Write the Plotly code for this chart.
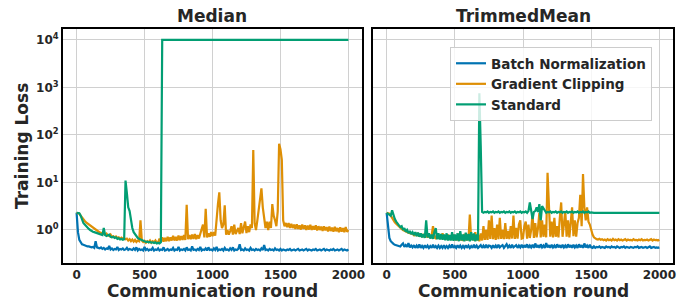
import plotly.graph_objects as go

# ---------------- data (every 10 rounds) ----------------
rounds = list(range(0, 2001, 10))  # 201 points

median_bn = [
    2.3, 0.9, 0.62, 0.55, 0.5, 0.49, 0.47, 0.46, 0.45, 0.45, 0.44, 0.43, 0.44, 0.42, 0.58, 0.43, 0.42, 0.41, 0.43, 0.40,
    0.42, 0.39, 0.41, 0.40, 0.46, 0.39, 0.41, 0.38, 0.40, 0.39, 0.44, 0.38, 0.40, 0.39, 0.41, 0.38, 0.39, 0.42, 0.38, 0.40,
    0.39, 0.38, 0.41, 0.38, 0.43, 0.37, 0.40, 0.38, 0.39, 0.37, 0.44, 0.38, 0.40, 0.37, 0.39, 0.38, 0.42, 0.37, 0.39, 0.38,
    0.41, 0.37, 0.39, 0.38, 0.43, 0.37, 0.38, 0.40, 0.37, 0.39, 0.38, 0.42, 0.37, 0.39, 0.38, 0.44, 0.37, 0.39, 0.38, 0.40,
    0.37, 0.43, 0.38, 0.39, 0.37, 0.45, 0.38, 0.39, 0.37, 0.40, 0.38, 0.44, 0.37, 0.39, 0.38, 0.41, 0.37, 0.43, 0.38, 0.39,
    0.37, 0.41, 0.38, 0.44, 0.37, 0.39, 0.38, 0.40, 0.37, 0.42, 0.38, 0.39, 0.37, 0.41, 0.38, 0.43, 0.37, 0.39, 0.38, 0.40,
    0.50, 0.38, 0.39, 0.37, 0.41, 0.38, 0.39, 0.37, 0.42, 0.38, 0.39, 0.37, 0.40, 0.38, 0.39, 0.37, 0.41, 0.38, 0.48, 0.38,
    0.39, 0.37, 0.40, 0.38, 0.39, 0.37, 0.41, 0.38, 0.39, 0.37, 0.40, 0.37, 0.39, 0.38, 0.37, 0.39, 0.38, 0.40, 0.37, 0.38,
    0.39, 0.37, 0.38, 0.40, 0.37, 0.38, 0.39, 0.37, 0.38, 0.40, 0.37, 0.39, 0.38, 0.37, 0.39, 0.38, 0.40, 0.37, 0.38, 0.39,
    0.37, 0.38, 0.40, 0.37, 0.39, 0.38, 0.37, 0.39, 0.38, 0.40, 0.37, 0.38, 0.39, 0.37, 0.38, 0.40, 0.37, 0.39, 0.38, 0.37,
    0.39,
]
median_gc = [
    2.3, 2.25, 2.2, 2.0, 1.8, 1.7, 1.55, 1.45, 1.38, 1.3, 1.22, 1.15, 1.1, 1.05, 1.0, 0.97, 0.93, 0.9, 0.88, 0.85,
    0.82, 0.8, 0.84, 0.77, 0.75, 0.8, 0.72, 0.74, 0.7, 0.73, 0.68, 0.7, 0.66, 0.69, 0.65, 0.67, 0.64, 0.66, 0.6, 0.64,
    0.58, 0.63, 0.57, 0.62, 0.56, 0.6, 0.58, 1.6, 0.6, 0.56, 0.59, 0.54, 0.58, 0.55, 0.6, 0.54, 0.58, 0.55, 0.6, 0.54,
    0.55, 0.66, 0.56, 0.7, 0.57, 0.68, 0.58, 0.72, 0.58, 0.7, 0.6, 0.75, 0.6, 0.72, 0.6, 0.76, 0.61, 0.74, 0.62, 0.78,
    0.62, 3.4, 0.64, 0.78, 0.64, 0.8, 0.65, 0.82, 0.64, 0.78, 0.66, 0.85, 0.95, 1.3, 0.7, 2.8, 0.7, 0.85, 0.72, 0.9,
    0.74, 0.9, 0.76, 2.0, 3.5, 6.2, 1.6, 1.1, 1.3, 3.3, 0.8, 1.0, 0.8, 0.95, 1.2, 0.8, 1.3, 0.82, 1.0, 1.1,
    0.82, 1.4, 0.85, 1.1, 1.5, 0.86, 1.2, 0.9, 1.3, 1.1, 48.0, 1.4, 1.0, 1.6, 2.5, 5.0, 7.5, 3.0, 2.0, 1.1,
    1.5, 1.0, 1.5, 1.1, 3.5, 2.0, 1.6, 1.2, 2.5, 65.0, 50.0, 30.0, 1.6, 1.2, 1.4, 1.15, 1.4, 1.1, 1.35, 1.1,
    1.3, 1.05, 1.32, 1.05, 1.25, 1.02, 1.3, 1.05, 1.25, 1.0, 1.24, 1.02, 1.28, 1.0, 1.2, 1.02, 1.25, 0.98, 1.2, 1.0,
    1.18, 0.95, 1.2, 0.98, 1.15, 0.93, 1.18, 0.95, 1.12, 0.92, 1.16, 0.94, 1.1, 0.9, 1.14, 0.92, 1.1, 0.9, 1.15, 0.92,
    1.0,
]
median_std = [
    2.3, 2.3, 2.25, 2.0, 1.6, 1.4, 1.3, 1.2, 1.1, 1.05, 1.0, 0.95, 0.92, 0.9, 0.88, 0.86, 0.85, 0.82, 0.8, 0.78,
    1.1, 0.78, 0.75, 0.78, 0.8, 0.72, 0.7, 0.72, 0.68, 0.7, 0.65, 0.67, 0.63, 0.65, 0.62, 0.64, 11.0, 6.0, 3.0, 2.5,
    1.5, 1.1, 0.9, 0.8, 0.72, 0.68, 0.65, 0.63, 0.6, 0.6, 0.58, 0.56, 0.57, 0.55, 0.56, 0.54, 0.55, 0.53, 0.55, 0.52,
    0.54, 0.52, 0.55, 10000, 10000, 10000, 10000, 10000, 10000, 10000, 10000, 10000, 10000, 10000, 10000, 10000, 10000, 10000, 10000, 10000,
    10000, 10000, 10000, 10000, 10000, 10000, 10000, 10000, 10000, 10000, 10000, 10000, 10000, 10000, 10000, 10000, 10000, 10000, 10000, 10000,
    10000, 10000, 10000, 10000, 10000, 10000, 10000, 10000, 10000, 10000, 10000, 10000, 10000, 10000, 10000, 10000, 10000, 10000, 10000, 10000,
    10000, 10000, 10000, 10000, 10000, 10000, 10000, 10000, 10000, 10000, 10000, 10000, 10000, 10000, 10000, 10000, 10000, 10000, 10000, 10000,
    10000, 10000, 10000, 10000, 10000, 10000, 10000, 10000, 10000, 10000, 10000, 10000, 10000, 10000, 10000, 10000, 10000, 10000, 10000, 10000,
    10000, 10000, 10000, 10000, 10000, 10000, 10000, 10000, 10000, 10000, 10000, 10000, 10000, 10000, 10000, 10000, 10000, 10000, 10000, 10000,
    10000, 10000, 10000, 10000, 10000, 10000, 10000, 10000, 10000, 10000, 10000, 10000, 10000, 10000, 10000, 10000, 10000, 10000, 10000, 10000,
    10000,
]

trimmed_bn = [
    2.3, 1.0, 0.68, 0.58, 0.53, 0.51, 0.49, 0.48, 0.47, 0.47, 0.45, 0.49, 0.52, 0.44, 0.48, 0.44, 0.53, 0.43, 0.47, 0.43,
    0.48, 0.42, 0.47, 0.42, 0.5, 0.42, 0.46, 0.42, 0.48, 0.42, 0.47, 0.42, 0.46, 0.42, 0.49, 0.42, 0.46, 0.42, 0.47, 0.42,
    0.46, 0.42, 0.48, 0.42, 0.46, 0.42, 0.47, 0.42, 0.5, 0.42, 0.46, 0.42, 0.48, 0.42, 0.47, 0.42, 0.46, 0.42, 0.48, 0.42,
    0.47, 0.42, 0.46, 0.42, 0.49, 0.42, 0.47, 0.42, 0.46, 0.48, 0.42, 0.47, 0.42, 0.49, 0.42, 0.47, 0.46, 0.42, 0.48, 0.42,
    0.47, 0.42, 0.49, 0.43, 0.46, 0.48, 0.42, 0.46, 0.5, 0.43, 0.47, 0.42, 0.49, 0.43, 0.46, 0.48, 0.42, 0.47, 0.43, 0.49,
    0.42, 0.48, 0.43, 0.5, 0.42, 0.47, 0.43, 0.49, 0.42, 0.52, 0.43, 0.48, 0.42, 0.5, 0.43, 0.47, 0.42, 0.53, 0.43, 0.48,
    0.42, 0.49, 0.43, 0.47, 0.42, 0.5, 0.43, 0.48, 0.42, 0.49, 0.43, 0.47, 0.42, 0.5, 0.43, 0.48, 0.42, 0.49, 0.43, 0.47,
    0.42, 0.5, 0.43, 0.48, 0.42, 0.52, 0.43, 0.47, 0.42, 0.49, 0.43, 0.42, 0.45, 0.42, 0.44, 0.43, 0.45, 0.42, 0.44, 0.43,
    0.42, 0.45, 0.43, 0.44, 0.42, 0.45, 0.43, 0.44, 0.42, 0.45, 0.43, 0.42, 0.44, 0.43, 0.45, 0.42, 0.44, 0.43, 0.42, 0.44,
    0.43, 0.42, 0.44, 0.43, 0.45, 0.42, 0.43, 0.44, 0.42, 0.43, 0.44, 0.42, 0.43, 0.45, 0.42, 0.43, 0.44, 0.42, 0.43, 0.42,
    0.43,
]
trimmed_gc = [
    2.3, 2.25, 2.2, 2.0, 1.75, 1.6, 1.45, 1.35, 1.25, 1.18, 1.1, 1.05, 1.0, 0.96, 0.93, 0.9, 0.88, 0.86, 0.85, 0.83,
    0.78, 0.88, 0.75, 0.86, 0.73, 0.84, 0.71, 0.82, 0.7, 0.8, 0.69, 0.8, 0.68, 0.78, 1.2, 0.7, 0.67, 0.8, 0.66, 0.76,
    0.65, 0.85, 0.64, 0.78, 0.63, 0.8, 0.62, 0.76, 0.62, 0.8, 0.61, 0.75, 0.6, 0.85, 0.6, 0.76, 0.59, 0.82, 0.6, 0.74,
    0.6, 2.1, 0.62, 0.8, 0.6, 0.9, 0.6, 0.78, 0.58, 0.85, 0.6, 1.2, 0.62, 1.0, 0.62, 1.6, 0.65, 2.0, 0.64, 1.1,
    0.62, 1.3, 0.64, 1.8, 0.65, 1.0, 0.64, 1.4, 0.65, 0.95, 0.64, 1.2, 0.66, 2.0, 0.65, 1.1, 0.66, 1.3, 1.6, 0.66,
    0.68, 1.2, 1.5, 0.66, 1.3, 0.68, 1.0, 2.2, 0.68, 1.4, 0.7, 1.1, 2.3, 0.7, 1.6, 0.72, 1.3, 0.7, 16.0, 3.0,
    0.72, 1.5, 0.7, 1.8, 0.72, 1.2, 0.7, 1.8, 3.8, 0.72, 1.4, 2.5, 0.72, 1.6, 0.7, 1.5, 3.0, 0.74, 1.6, 0.72,
    1.4, 1.8, 5.5, 1.2, 15.0, 3.0, 1.6, 3.0, 1.5, 1.3, 1.0, 0.8, 0.7, 0.66, 0.64, 0.63, 0.65, 0.62, 0.64, 0.61,
    0.63, 0.6, 0.64, 0.61, 0.63, 0.6, 0.65, 0.61, 0.63, 0.6, 0.64, 0.61, 0.63, 0.6, 0.62, 0.64, 0.6, 0.63, 0.61, 0.62,
    0.6, 0.64, 0.61, 0.62, 0.6, 0.63, 0.61, 0.64, 0.6, 0.62, 0.61, 0.63, 0.6, 0.62, 0.64, 0.6, 0.63, 0.61, 0.62, 0.6,
    0.62,
]
trimmed_std = [
    2.3, 2.2, 2.1, 2.0, 2.6, 2.0, 1.7, 1.5, 1.35, 1.25, 1.15, 1.2, 1.0, 1.1, 0.92, 1.0, 0.86, 0.95, 0.82, 0.9,
    0.78, 0.9, 0.74, 0.88, 0.72, 0.85, 0.7, 0.82, 0.68, 1.6, 0.7, 0.85, 0.66, 0.8, 0.65, 0.9, 1.1, 0.64, 0.85, 0.63,
    0.82, 0.62, 0.8, 0.61, 0.85, 0.6, 0.78, 0.6, 0.9, 0.59, 0.8, 0.6, 0.85, 0.58, 0.95, 0.6, 0.8, 0.58, 0.88, 0.6,
    0.82, 0.58, 0.9, 0.6, 0.85, 0.58, 0.8, 0.6, 750.0, 60.0, 2.4, 2.3, 2.4, 2.35, 2.45, 2.3, 2.4, 2.35, 2.45, 2.3,
    2.4, 2.35, 2.45, 2.3, 2.4, 2.35, 2.45, 2.3, 2.4, 2.35, 2.45, 2.3, 2.4, 2.35, 2.45, 2.3, 2.4, 2.35, 2.45, 2.3,
    2.4, 2.35, 2.45, 2.3, 2.5, 3.8, 2.6, 1.7, 2.4, 2.5, 3.0, 2.4, 3.5, 1.6, 3.2, 2.8, 2.45, 2.3, 2.4, 2.35,
    2.45, 2.3, 2.4, 2.35, 2.45, 2.3, 2.4, 2.35, 2.45, 2.3, 2.4, 2.35, 2.45, 2.3, 2.4, 2.35, 2.45, 2.3, 2.4, 2.35,
    2.45, 2.3, 2.4, 2.35, 2.45, 2.3, 2.4, 2.35, 2.45, 2.3, 2.35, 2.3, 2.3, 2.3, 2.3, 2.3, 2.3, 2.3, 2.3, 2.3,
    2.3, 2.3, 2.3, 2.3, 2.3, 2.3, 2.3, 2.3, 2.3, 2.3, 2.3, 2.3, 2.3, 2.3, 2.3, 2.3, 2.3, 2.3, 2.3, 2.3,
    2.3, 2.3, 2.3, 2.3, 2.3, 2.3, 2.3, 2.3, 2.3, 2.3, 2.3, 2.3, 2.3, 2.3, 2.3, 2.3, 2.3, 2.3, 2.3, 2.3,
    2.3,
]

series_names = ["Batch Normalization", "Gradient Clipping", "Standard"]
colors = ["#0173B2", "#DE8F05", "#029E73"]
panel_titles = ["Median", "TrimmedMean"]
y_tick_vals = [1, 10, 100, 1000, 10000]
y_tick_text = ["10<sup>0</sup>", "10<sup>1</sup>", "10<sup>2</sup>", "10<sup>3</sup>", "10<sup>4</sup>"]
x_tick_vals = [0, 500, 1000, 1500, 2000]

panels = [
    [median_bn, median_gc, median_std],
    [trimmed_bn, trimmed_gc, trimmed_std],
]

# ---------------- figure ----------------
# the page body has an 8px margin: the figure is drawn at (8, 8)
OFF = 8
W, H = 691 - OFF, 303 - OFF
fig = go.Figure()

FONT = "DejaVu Sans"
TXT = "#262626"

for p, data in enumerate(panels):
    xa = "x" if p == 0 else "x2"
    ya = "y" if p == 0 else "y2"
    for s, vals in enumerate(data):
        fig.add_trace(go.Scatter(
            x=rounds, y=vals, mode="lines",
            line=dict(color=colors[s], width=2.2),
            name=series_names[s], showlegend=(p == 1),
            xaxis=xa, yaxis=ya,
        ))

def px_x(v):
    return (v - OFF) / W

def px_y(v):
    return 1 - (v - OFF) / H

x_domains = [[px_x(63), px_x(362)], [px_x(373), px_x(673)]]
y_domain = [px_y(263), px_y(29)]

axis_common = dict(
    showline=True, linecolor="black", linewidth=2, mirror=True,
    showgrid=True, gridcolor="#d0d0d0", gridwidth=1.2,
    zeroline=False, ticks="", automargin=False,
    tickfont=dict(family=FONT, size=12, color=TXT, weight="bold"),
)

fig.update_layout(
    width=W, height=H,
    margin=dict(l=0, r=0, t=0, b=0, autoexpand=False),
    paper_bgcolor="white", plot_bgcolor="white",
    xaxis=dict(domain=x_domains[0], range=[-100, 2100], tickvals=x_tick_vals,
               anchor="y", **axis_common),
    xaxis2=dict(domain=x_domains[1], range=[-100, 2100], tickvals=x_tick_vals,
                anchor="y2", **axis_common),
    yaxis=dict(domain=y_domain, type="log", range=[-0.695, 4.23],
               tickvals=y_tick_vals, ticktext=y_tick_text, anchor="x",
               **axis_common),
    yaxis2=dict(domain=y_domain, type="log", range=[-0.695, 4.23],
                tickvals=y_tick_vals, showticklabels=False, anchor="x2",
                **axis_common),
    legend=dict(
        x=px_x(450), y=px_y(47), xanchor="left", yanchor="top",
        bgcolor="rgba(255,255,255,0.8)", bordercolor="#cccccc", borderwidth=1,
        font=dict(family=FONT, size=13.5, color=TXT, weight="bold"),
        tracegroupgap=0, itemwidth=30,
    ),
    showlegend=True,
)

annotations = []
for p in range(2):
    cx = (x_domains[p][0] + x_domains[p][1]) / 2
    annotations.append(dict(
        text=panel_titles[p], x=cx, y=px_y(16), xref="paper", yref="paper",
        xanchor="center", yanchor="middle", showarrow=False,
        font=dict(family=FONT, size=17, color=TXT, weight="bold"),
    ))
    annotations.append(dict(
        text="Communication round", x=cx, y=px_y(291), xref="paper", yref="paper",
        xanchor="center", yanchor="middle", showarrow=False,
        font=dict(family=FONT, size=17, color=TXT, weight="bold"),
    ))
annotations.append(dict(
    text="Training Loss", x=px_x(22), y=(y_domain[0] + y_domain[1]) / 2,
    xref="paper", yref="paper", xanchor="center", yanchor="middle",
    showarrow=False, textangle=-90,
    font=dict(family=FONT, size=17, color=TXT, weight="bold"),
))
fig.update_layout(annotations=annotations)

fig.write_html("out.html")
